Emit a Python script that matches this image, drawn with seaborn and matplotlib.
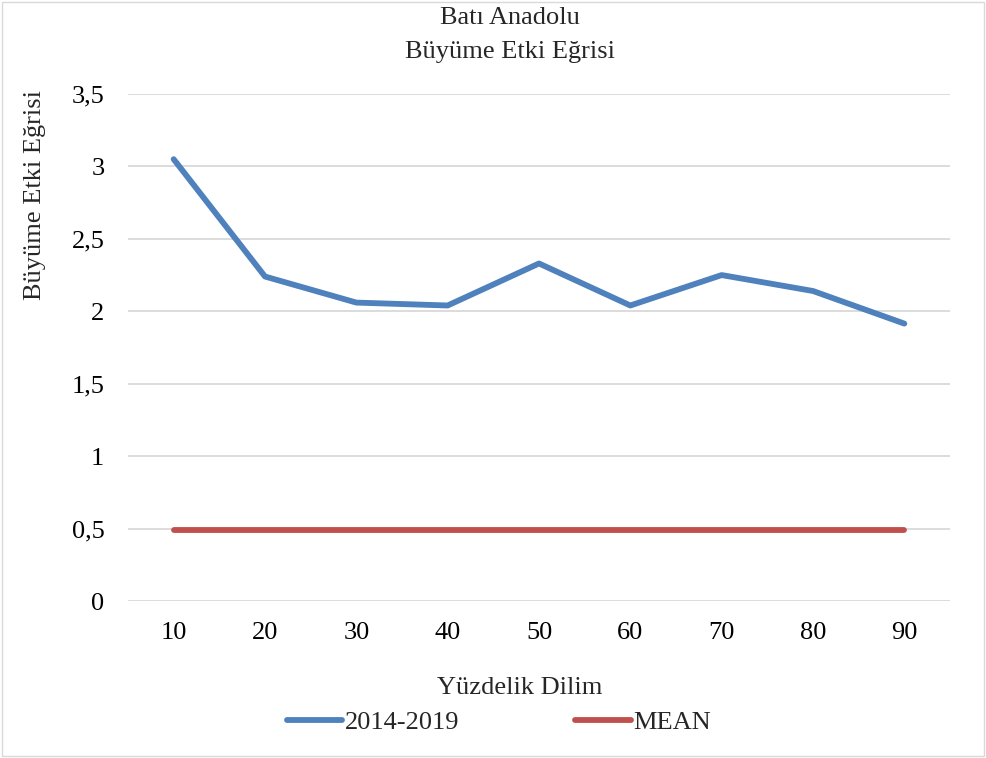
import pandas as pd
import matplotlib.pyplot as plt
import seaborn as sns
from matplotlib.ticker import FuncFormatter
from matplotlib.patches import Rectangle

# Data
dilim = ["10", "20", "30", "40", "50", "60", "70", "80", "90"]
seri_2014_2019 = [3.05, 2.24, 2.06, 2.04, 2.33, 2.04, 2.25, 2.14, 1.915]
mean_vals = [0.49] * 9

sns.set_theme(style="white")
plt.rcParams['font.family'] = ['Liberation Serif', 'DejaVu Serif']

df = pd.DataFrame({
    "dilim": dilim * 2,
    "deger": seri_2014_2019 + mean_vals,
    "seri": ["2014-2019"] * 9 + ["MEAN"] * 9,
})

fs = 19
fig = plt.figure(figsize=(9.86, 7.58), dpi=100)
ax = fig.add_axes([128 / 986, 1 - 601 / 758, 822 / 986, 507 / 758])

sns.lineplot(data=df, x="dilim", y="deger", hue="seri",
             palette={"2014-2019": "#4F81BD", "MEAN": "#C0504D"},
             linewidth=4.2, ax=ax, legend=False, sort=False,
             solid_capstyle="round", solid_joinstyle="round")

ax.set_xlim(-0.5, 8.5)
ax.set_ylim(0, 3.5)
ax.set_yticks([0, 0.5, 1, 1.5, 2, 2.5, 3, 3.5])
ax.yaxis.set_major_formatter(FuncFormatter(lambda v, p: f"{v:g}".replace(".", ",")))
ax.grid(axis="y", color="#D9D9D9", linewidth=1.3)
ax.set_axisbelow(True)
for s in ax.spines.values():
    s.set_visible(False)
ax.tick_params(axis="both", labelsize=fs, length=0, colors="black")
ax.tick_params(axis="x", pad=15)
ax.tick_params(axis="y", pad=17)

ax.set_xlabel("Yüzdelik Dilim", fontsize=fs)
ax.xaxis.set_label_coords(0.477, -0.15)
ax.set_ylabel("Büyüme Etki Eğrisi", fontsize=fs)
ax.yaxis.set_label_coords(-0.10, 0.80)

fig.text(510 / 986, 1 - 18 / 758, "Batı Anadolu", ha="center", va="center", fontsize=fs)
fig.text(510 / 986, 1 - 52 / 758, "Büyüme Etki Eğrisi", ha="center", va="center", fontsize=fs)

handles = [plt.Line2D([], [], color="#4F81BD", lw=4.2, solid_capstyle="round"),
           plt.Line2D([], [], color="#C0504D", lw=4.2, solid_capstyle="round")]
fig.legend(handles, ["2014-2019", "MEAN"], loc="center", ncol=2,
           bbox_to_anchor=(499 / 986, 1 - 722 / 758), frameon=False,
           fontsize=fs, columnspacing=4.4, handlelength=2.1, handletextpad=0.1)

fig.add_artist(Rectangle((0.002, 0.002), 0.996, 0.996, transform=fig.transFigure,
                         fill=False, edgecolor="#D9D9D9", linewidth=1))

fig.savefig("out.png", dpi=100)
